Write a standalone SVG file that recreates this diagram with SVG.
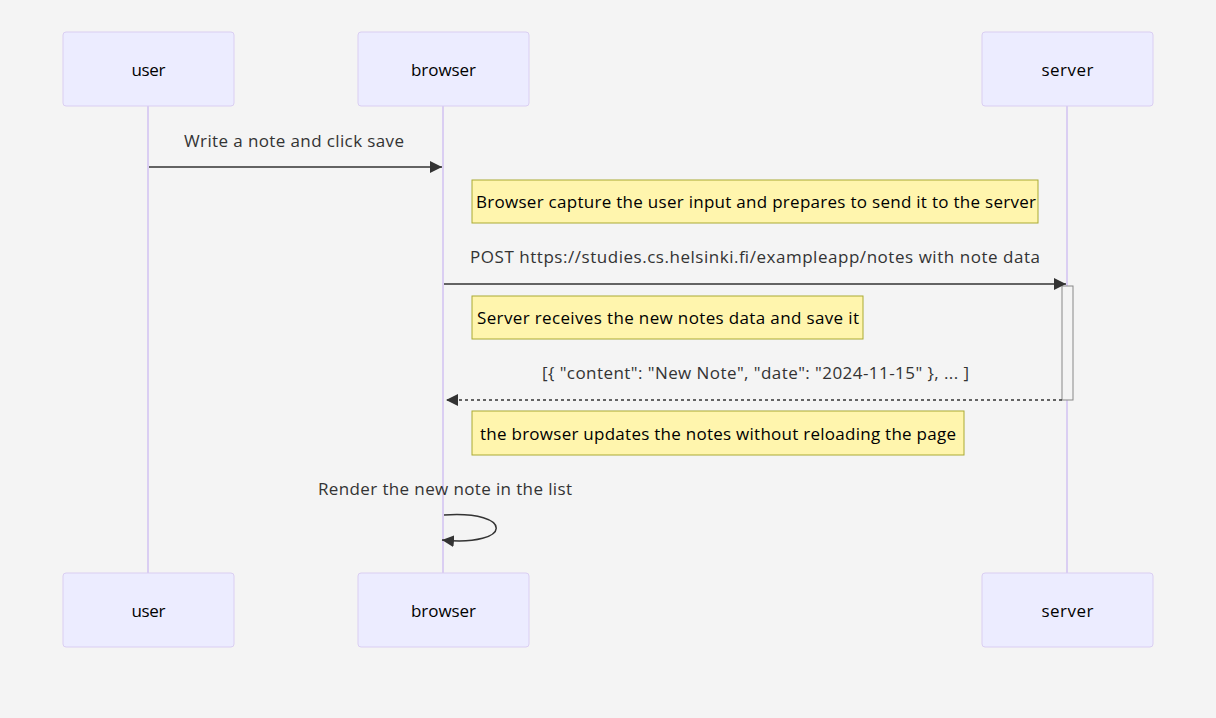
<svg xmlns="http://www.w3.org/2000/svg" width="1216" height="718" viewBox="0 0 1216 718">
<style>
.actor{fill:#ECECFF;stroke:#DACEF2;stroke-width:1}
.atext{font-family:"Open Sans",sans-serif;font-size:17px;fill:#000;text-anchor:middle;dominant-baseline:central}
.life{stroke:#DACEF2;stroke-width:2}
.msg{stroke:#333;stroke-width:1.5;fill:none}
.mtext{font-family:"Open Sans",sans-serif;font-size:17px;fill:#333;text-anchor:middle;dominant-baseline:central}
.note{fill:#FFF5AD;stroke:#AAAA33;stroke-width:1}
.ntext{font-family:"Open Sans",sans-serif;font-size:17px;fill:#000;text-anchor:middle;dominant-baseline:central}
</style>
<defs>
<marker id="arrow" viewBox="0 0 12 12" refX="12" refY="6" markerWidth="12" markerHeight="12" markerUnits="userSpaceOnUse" orient="auto">
<path d="M0,0 L12,6 L0,12 z" fill="#333"/>
</marker>
</defs>
<rect x="0" y="0" width="1216" height="718" fill="#F4F4F4"/>
<g id="lifelines">
<line class="life" x1="148" y1="106" x2="148" y2="573"/>
<line class="life" x1="443" y1="106" x2="443" y2="573"/>
<line class="life" x1="1067" y1="106" x2="1067" y2="573"/>
</g>
<g id="actor-user-top"><rect class="actor" x="63" y="32" width="171" height="74" rx="3"/><text class="atext" x="148.5" y="69" textLength="34">user</text></g>
<g id="actor-browser-top"><rect class="actor" x="358" y="32" width="171" height="74" rx="3"/><text class="atext" x="443.5" y="69" textLength="65">browser</text></g>
<g id="actor-server-top"><rect class="actor" x="982" y="32" width="171" height="74" rx="3"/><text class="atext" x="1067.5" y="69" textLength="52">server</text></g>
<g id="actor-user-bottom"><rect class="actor" x="63" y="573" width="171" height="74" rx="3"/><text class="atext" x="148.5" y="610" textLength="34">user</text></g>
<g id="actor-browser-bottom"><rect class="actor" x="358" y="573" width="171" height="74" rx="3"/><text class="atext" x="443.5" y="610" textLength="65">browser</text></g>
<g id="actor-server-bottom"><rect class="actor" x="982" y="573" width="171" height="74" rx="3"/><text class="atext" x="1067.5" y="610" textLength="52">server</text></g>
<g id="activation"><rect x="1062" y="286" width="11" height="114" fill="#F4F4F4" stroke="#888" stroke-width="1"/></g>
<g id="note1"><rect class="note" x="472" y="180" width="566" height="43"/><text class="ntext" x="756" y="201" textLength="560">Browser capture the user input and prepares to send it to the server</text></g>
<g id="note2"><rect class="note" x="472" y="296" width="391" height="43"/><text class="ntext" x="668" y="317" textLength="382">Server receives the new notes data and save it</text></g>
<g id="note3"><rect class="note" x="472" y="411" width="492" height="44"/><text class="ntext" x="718" y="433" textLength="476">the browser updates the notes without reloading the page</text></g>
<g id="connectors">
<line class="msg" x1="149" y1="167" x2="442" y2="167" marker-end="url(#arrow)"/>
<line class="msg" x1="444" y1="284" x2="1066" y2="284" marker-end="url(#arrow)"/>
<line class="msg" x1="1062" y1="400" x2="446" y2="400" stroke-dasharray="3,3" marker-end="url(#arrow)"/>
<path class="msg" d="M444,515 C514,510 514,547 442,540" marker-end="url(#arrow)"/>
</g>
<g id="labels">
<text class="mtext" x="294" y="140" textLength="220">Write a note and click save</text>
<text class="mtext" x="755" y="256" textLength="570">POST https://studies.cs.helsinki.fi/exampleapp/notes with note data</text>
<text class="mtext" x="755.5" y="372" textLength="427">[{ "content": "New Note", "date": "2024-11-15" }, ... ]</text>
<text class="mtext" x="445" y="488" textLength="254">Render the new note in the list</text>
</g>
</svg>
